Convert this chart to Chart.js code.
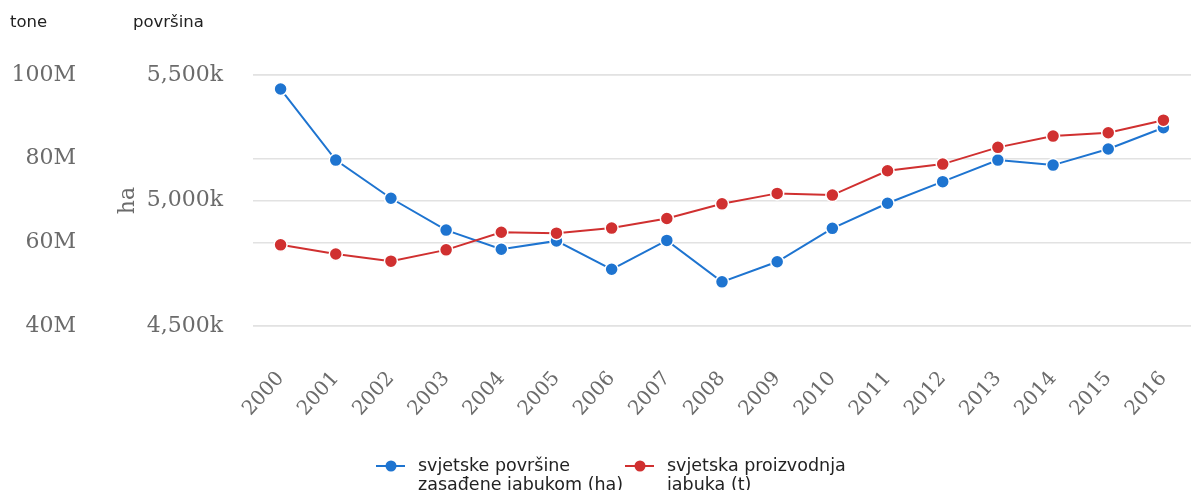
<!DOCTYPE html>
<html>
<head>
<meta charset="utf-8">
<script src="https://cdn.jsdelivr.net/npm/chart.js@4"></script>
<style>
    body { margin: 0; background: #fff; }
    #wrap { width: 1191px; height: 490px; }
</style>
</head>
<body>
<div id="wrap"><canvas id="appleChart" width="1191" height="490"></canvas></div>
<script>
// chart data
const years = ['2000', '2001', '2002', '2003', '2004', '2005', '2006', '2007', '2008',
    '2009', '2010', '2011', '2012', '2013', '2014', '2015', '2016'];

// world area planted with apples, thousands of ha
const areaHa = [5444, 5161, 5009, 4882, 4806, 4839, 4726, 4841, 4676,
    4756, 4889, 4989, 5075, 5161, 5141, 5205, 5290];

// world apple production, millions of tonnes
const productionT = [59.4, 57.2, 55.5, 58.2, 62.4, 62.2, 63.4, 65.7, 69.2,
    71.7, 71.3, 77.1, 78.7, 82.7, 85.4, 86.2, 89.2];

// axis ticks
const toneTicks = [40, 60, 80, 100];
const haTicks = [4500, 5000, 5500];

const areaLabel = ['svjetske površine', 'zasađene jabukom (ha)'];
const productionLabel = ['svjetska proizvodnja', 'jabuka (t)'];
const toneTitle = 'tone';
const areaTitle = 'površina';

const blue = 'rgb(30, 116, 208)';
const red = 'rgb(208, 48, 48)';
const tickGray = '#6b6b6b';
const serif = "'DejaVu Serif', serif";
const sans = "'DejaVu Sans', sans-serif";

// draws the two corner titles and the legend below the axis
const extrasPlugin = {
    id: 'extras',
    afterDraw(chart) {
        const ctx = chart.ctx;
        ctx.save();
        ctx.fillStyle = '#222';
        ctx.textBaseline = 'middle';
        ctx.textAlign = 'left';
        ctx.font = '16.5px ' + sans;
        ctx.fillText(toneTitle, 10, 23);
        ctx.fillText(areaTitle, 133, 23);

        const items = [
            { label: areaLabel, color: blue, x: 376 },
            { label: productionLabel, color: red, x: 625 }
        ];
        ctx.font = '17.5px ' + sans;
        items.forEach(item => {
            const y = 466;
            ctx.strokeStyle = item.color;
            ctx.lineWidth = 2;
            ctx.beginPath();
            ctx.moveTo(item.x, y);
            ctx.lineTo(item.x + 29, y);
            ctx.stroke();
            ctx.fillStyle = item.color;
            ctx.beginPath();
            ctx.arc(item.x + 15, y, 5.5, 0, Math.PI * 2);
            ctx.fill();
            ctx.fillStyle = '#222';
            item.label.forEach((line, i) => {
                ctx.fillText(line, item.x + 42, y + i * 19);
            });
        });
        ctx.restore();
    }
};

const ctx = document.getElementById('appleChart').getContext('2d');
const appleChart = new Chart(ctx, {
    type: 'line',
    data: {
        labels: years,
        datasets: [{
            label: areaLabel.join(' '),
            data: areaHa,
            yAxisID: 'yHa',
            borderColor: blue,
            backgroundColor: blue,
            pointBackgroundColor: blue,
            pointBorderColor: '#fff',
            pointBorderWidth: 1.5,
            pointRadius: 6.5,
            borderWidth: 2,
            tension: 0,
            order: 1
        }, {
            label: productionLabel.join(' '),
            data: productionT,
            yAxisID: 'yTone',
            borderColor: red,
            backgroundColor: red,
            pointBackgroundColor: red,
            pointBorderColor: '#fff',
            pointBorderWidth: 1.5,
            pointRadius: 6.5,
            borderWidth: 2,
            tension: 0,
            order: 0
        }]
    },
    options: {
        responsive: false,
        animation: false,
        events: [],
        layout: {
            // grid runs off the right edge in the reference
            autoPadding: false,
            padding: { top: 75, left: 0, right: -1, bottom: 0 }
        },
        plugins: {
            legend: { display: false },
            tooltip: { enabled: false }
        },
        scales: {
            x: {
                offset: true,
                grid: { display: false },
                border: { display: false },
                ticks: {
                    autoSkip: false,
                    minRotation: 48,
                    maxRotation: 48,
                    padding: 33,
                    color: tickGray,
                    font: { family: serif, size: 20 }
                },
                afterFit(scale) {
                    scale.height = 164;
                    scale.paddingRight = 0;
                    scale.paddingLeft = 0;
                }
            },
            yTone: {
                position: 'left',
                weight: 2,
                min: 40,
                max: 100,
                afterBuildTicks(scale) {
                    scale.ticks = toneTicks.map(v => ({ value: v }));
                },
                grid: { color: '#e2e2e2', lineWidth: 1.5, drawTicks: false },
                border: { display: false },
                ticks: {
                    padding: 24,
                    color: tickGray,
                    font: { family: serif, size: 22 },
                    callback: value => value + 'M'
                },
                afterFit(scale) {
                    scale.width = 100;
                }
            },
            yHa: {
                position: 'left',
                weight: 1,
                min: 4500,
                max: 5500,
                afterBuildTicks(scale) {
                    scale.ticks = haTicks.map(v => ({ value: v }));
                },
                grid: { color: '#e2e2e2', lineWidth: 1.5, drawTicks: false },
                border: { display: false },
                title: {
                    display: true,
                    text: 'ha',
                    color: tickGray,
                    font: { family: serif, size: 22 },
                    padding: { top: 15, bottom: 0 }
                },
                ticks: {
                    padding: 30,
                    color: tickGray,
                    font: { family: serif, size: 22 },
                    callback: value => value.toLocaleString('en-US') + 'k'
                },
                afterFit(scale) {
                    scale.width = 153;
                }
            }
        }
    },
    plugins: [extrasPlugin]
});
</script>
</body>
</html>
